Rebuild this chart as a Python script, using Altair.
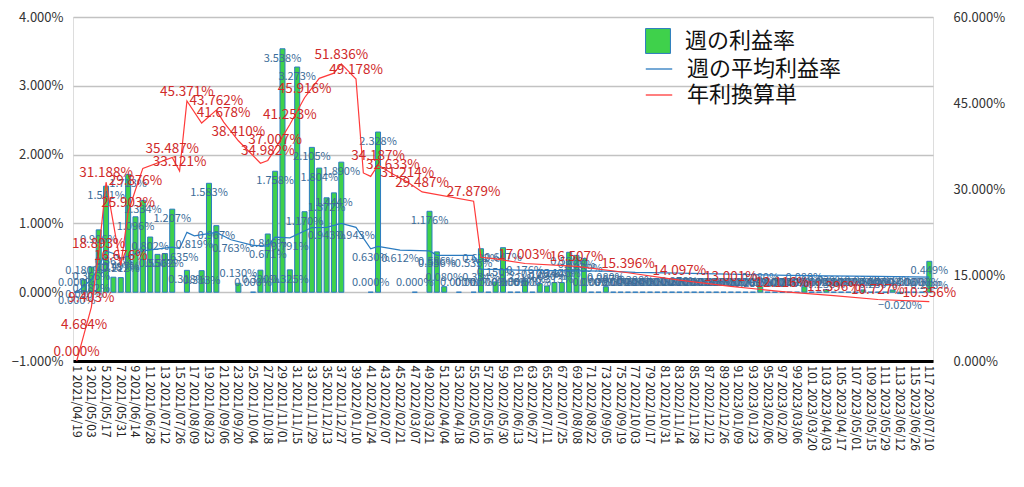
import altair as alt
import pandas as pd

# ---------------- data ----------------
weeks = list(range(1, 118))
dates = pd.date_range("2021-04-19", periods=117, freq="7D").strftime("%Y/%m/%d").tolist()
week_labels = [f"{w} {d}" for w, d in zip(weeks, dates)]

series_names = ["週の利益率", "週の平均利益率", "年利換算単"]

# weekly return (%), None = no bar
weekly_return = [
    0.000, 0.180, 0.366, 0.906, 1.541, 0.218, 0.212, 1.713, 1.096, 1.334,
    0.802, 0.550, 0.562, 1.207, None, 0.318, None, 0.313, 1.583, 0.967,
    None, None, 0.130, None, 0.000, 0.320, 0.846, 1.758, 3.538, 0.325,
    3.273, 1.170, 2.105, 1.804, 1.372, 1.444, 1.890, None, None, None,
    0.000, 2.328, None, None, None, None, 0.000, None, 1.176, 0.586,
    0.080, None, 0.000, None, 0.000, 0.632, 0.000, 0.150, 0.647, 0.000,
    0.000, 0.176, 0.000, 0.125, 0.090, 0.140, 0.140, 0.580, 0.535, 0.489,
    0.000, 0.000, 0.080, 0.000, 0.000, 0.000, 0.000, 0.000, 0.000, 0.000,
    0.000, 0.000, 0.000, 0.000, 0.000, 0.000, 0.000, 0.000, 0.000, 0.000,
    0.000, 0.000, 0.000, 0.080, 0.000, 0.000, 0.000, 0.000, 0.000, 0.080,
    0.000, 0.000, 0.039, 0.000, 0.000, 0.000, 0.000, 0.033, 0.000, 0.000,
    0.000, 0.032, -0.020, 0.000, 0.000, 0.000, 0.449,
]

# weekly average return (%)
avg_weeks = [1, 2, 3, 4, 5, 6, 7, 8, 10, 14, 15, 16, 17, 20, 22, 25, 27, 28, 30, 33,
             35, 37, 39, 41, 42, 45, 49, 50, 55, 56, 61, 66, 73, 77, 83, 88, 93, 98,
             103, 110, 117]
avg_values = [0.000, 0.090, 0.182, 0.363, 0.599, 0.563, 0.497, 0.520, 0.600, 0.655,
              0.635, 0.870, 0.819, 0.870, 0.763, 0.680, 0.671, 0.800, 0.791, 0.940,
              0.943, 1.000, 0.943, 0.630, 0.665, 0.612, 0.600, 0.536, 0.535, 0.334,
              0.321, 0.313, 0.307, 0.288, 0.276, 0.265, 0.255, 0.245, 0.238, 0.230,
              0.218]
avg_labeled = [True, True, True, False, False, True, True, False, False, False,
               True, False, True, False, True, False, True, False, True, False,
               True, False, True, True, False, True, False, True, True, True,
               True, True, True, True, True, True, True, True, True, True,
               True]

# annualized return (%)
ann_weeks = [1, 2, 3, 4, 5, 7, 8, 9, 10, 14, 15, 16, 18, 20, 21, 23, 26, 27, 28, 30,
             32, 34, 36, 37, 39, 40, 41, 42, 44, 46, 48, 55, 56, 58, 62, 69, 76, 83,
             90, 97, 104, 110, 117]
ann_values = [0.000, 4.684, 9.403, 18.893, 31.188, 16.676, 25.903, 29.876, 33.600, 35.487,
              33.121, 45.371, 41.500, 43.762, 41.678, 38.410, 34.500, 34.982, 37.007, 41.253,
              45.916, 49.300, 50.200, 51.836, 49.178, 32.800, 32.200, 34.187, 32.633, 31.214,
              29.487, 27.879, 18.100, 17.800, 17.003, 16.507, 15.396, 14.097, 13.001, 12.116,
              11.396, 10.727, 10.356]
ann_labeled = [True, True, True, True, True, True, True, True, False, True,
               True, True, False, True, True, True, False, True, True, True,
               True, False, False, True, True, False, False, True, True, True,
               True, True, False, False, True, True, True, True, True, True,
               True, True, True]

# ---------------- tables ----------------
bars_df = pd.DataFrame({"label": week_labels, "ret": weekly_return, "series": series_names[0]})
bars_df = bars_df.dropna(subset=["ret"])
avg_df = pd.DataFrame({"label": [week_labels[w - 1] for w in avg_weeks], "avg": avg_values,
                       "show": avg_labeled, "series": series_names[1]})
ann_df = pd.DataFrame({"label": [week_labels[w - 1] for w in ann_weeks], "ann": ann_values,
                       "show": ann_labeled, "series": series_names[2]})

FONT = "Noto Sans CJK JP"
GREEN = "#3fd14b"
BLUE = "#2b7bc0"
RED = "#ff3a3a"
BLUE_TXT = "#3c6c98"
RED_TXT = "#d02a2a"

X = alt.X("label:N", sort=week_labels,
          scale=alt.Scale(domain=week_labels, paddingInner=0, paddingOuter=0),
          axis=alt.Axis(title=None, labelAngle=90,
                        labelExpr="parseInt(datum.value) % 2 == 1 ? datum.value : ''",
                        ticks=False, domainColor="black", domainWidth=3,
                        labelFontSize=12, labelColor="#222", labelPadding=4,
                        labelOverlap=False, grid=False, labelFont=FONT))

left_scale = alt.Scale(domain=[-1, 4], nice=False, zero=False)
left_axis = alt.Axis(title=None, values=[-1, 0, 1, 2, 3, 4],
                     labelExpr="format(datum.value, '.3f') + '%'",
                     grid=True, gridColor="#c2c2c2", gridWidth=1.5,
                     domain=False, ticks=False, labelFontSize=13, labelPadding=10,
                     labelColor="#333", labelFont=FONT)


def yl(field):
    return alt.Y(f"{field}:Q", scale=left_scale, axis=left_axis)


fill_scale = alt.Scale(domain=[series_names[0]], range=[GREEN])
stroke_scale = alt.Scale(domain=series_names[1:], range=[BLUE, RED])

bars = alt.Chart(bars_df).mark_bar(size=5, stroke=BLUE, strokeWidth=1).encode(
    x=X, y=yl("ret"), y2=alt.datum(0),
    fill=alt.Fill("series:N", scale=fill_scale,
                  legend=alt.Legend(title=None, orient="none", legendX=572, legendY=11,
                                    symbolType="square", symbolSize=620,
                                    symbolStrokeColor=BLUE, symbolStrokeWidth=1,
                                    labelFontSize=22, labelFont=FONT, labelColor="#111",
                                    labelOffset=14)),
)

txt_expr = "format(datum.ret, '.3f') + '%'"
bar_lab_hi = alt.Chart(bars_df).transform_filter("datum.ret >= 0.25").transform_calculate(
    txt=txt_expr).mark_text(dy=10, fontSize=11, color=BLUE_TXT, font=FONT).encode(
    x=X, y=yl("ret"), text="txt:N")
bar_lab_lo = alt.Chart(bars_df).transform_filter("datum.ret < 0.25 && datum.ret >= 0").transform_calculate(
    txt=txt_expr).mark_text(dy=-9, fontSize=11, color=BLUE_TXT, font=FONT).encode(
    x=X, y=yl("ret"), text="txt:N")
bar_lab_neg = alt.Chart(bars_df).transform_filter("datum.ret < 0").transform_calculate(
    txt=txt_expr).mark_text(dy=12, fontSize=11, color=BLUE_TXT, font=FONT).encode(
    x=X, y=yl("ret"), text="txt:N")

stroke_legend = alt.Legend(title=None, orient="none", legendX=572, legendY=38,
                           symbolType="stroke", symbolSize=700, symbolStrokeWidth=1.3,
                           labelFontSize=22, labelFont=FONT, labelColor="#111",
                           labelOffset=14, rowPadding=1)

avg_line = alt.Chart(avg_df).mark_line(strokeWidth=1.2).encode(
    x=X, y=yl("avg"),
    stroke=alt.Stroke("series:N", scale=stroke_scale, legend=stroke_legend))
avg_lab = alt.Chart(avg_df).transform_filter("datum.show").transform_calculate(
    txt="format(datum.avg, '.3f') + '%'").mark_text(
    dy=9, fontSize=11, color=BLUE_TXT, font=FONT).encode(x=X, y=yl("avg"), text="txt:N")

left = alt.layer(bars, bar_lab_hi, bar_lab_lo, bar_lab_neg, avg_line, avg_lab)

right_y = alt.Y("ann:Q", scale=alt.Scale(domain=[0, 60], nice=False),
                axis=alt.Axis(title=None, orient="right", values=[0, 15, 30, 45, 60],
                              labelExpr="format(datum.value, '.3f') + '%'",
                              grid=False, domain=False, ticks=False, labelFontSize=13,
                              labelPadding=20, labelColor="#333", labelFont=FONT))
ann_line = alt.Chart(ann_df).mark_line(strokeWidth=1.2).encode(
    x=X, y=right_y,
    stroke=alt.Stroke("series:N", scale=stroke_scale, legend=stroke_legend))
ann_lab = alt.Chart(ann_df).transform_filter("datum.show").transform_calculate(
    txt="format(datum.ann, '.3f') + '%'").mark_text(
    dy=-9, fontSize=13.5, color=RED_TXT, font=FONT).encode(x=X, y=right_y, text="txt:N")

right = alt.layer(ann_line, ann_lab)

chart = alt.layer(left, right).resolve_scale(y="independent").properties(
    width=860, height=344,
    padding={"left": 65, "top": 9, "right": 83, "bottom": 118},
    autosize=alt.AutoSizeParams(type="none"),
    background="white",
).configure_view(fill="#e8e8e8", stroke=None).configure(font=FONT)

chart.save("out.html", embed_options={"renderer": "svg", "actions": False})
